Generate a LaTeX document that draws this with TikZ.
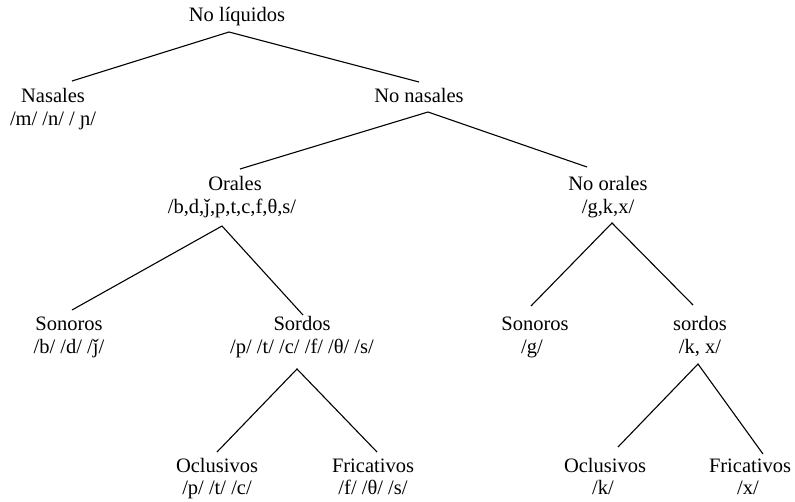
\documentclass[tikz,border=0pt]{standalone}
\usepackage{fontspec}
\setmainfont{Liberation Serif}
\begin{document}
\begin{tikzpicture}[x=1pt,y=-1pt,
  lbl/.style={anchor=base,inner sep=0pt,font=\fontsize{20.5}{23}\selectfont},
  edge/.style={line width=1.1pt}]
\useasboundingbox (0,0) rectangle (795,501);
% row 0
\node[lbl] (nl) at (237,21) {No líquidos};
% row 1
\node[lbl] (nas) at (53,102) {Nasales};
\node[lbl] (nasP) at (53,125) {/m/ /n/ / ɲ/};
\node[lbl] (nn) at (419,102) {No nasales};
% row 2
\node[lbl] (or) at (235,190) {Orales};
\node[lbl] (orP) at (232,213) {/b,d,ǰ,p,t,c,f,θ,s/};
\node[lbl] (no) at (608,190) {No orales};
\node[lbl] (noP) at (608,213) {/g,k,x/};
% row 3
\node[lbl] (sonL) at (69,330) {Sonoros};
\node[lbl] (sonLP) at (69,353) {/b/ /d/ /ǰ/};
\node[lbl] (sorL) at (302,330) {Sordos};
\node[lbl] (sorLP) at (302,353) {/p/ /t/ /c/ /f/ /θ/ /s/};
\node[lbl] (sonR) at (535,330) {Sonoros};
\node[lbl] (sonRP) at (532,353) {/g/};
\node[lbl] (sorR) at (700,330) {sordos};
\node[lbl] (sorRP) at (700,353) {/k, x/};
% row 4
\node[lbl] (ocL) at (217,472) {Oclusivos};
\node[lbl] (ocLP) at (217,494) {/p/ /t/ /c/};
\node[lbl] (frL) at (373,472) {Fricativos};
\node[lbl] (frLP) at (373,494) {/f/ /θ/ /s/};
\node[lbl] (ocR) at (605,472) {Oclusivos};
\node[lbl] (ocRP) at (603,494) {/k/};
\node[lbl] (frR) at (750,472) {Fricativos};
\node[lbl] (frRP) at (748,494) {/x/};
% connectors
\draw[edge] ([shift={(19,-21)}]nas.base) -- ([shift={(-8,11)}]nl.base) -- ([shift={(0,-20)}]nn.base);
\draw[edge] ([shift={(5,-21)}]or.base) -- ([shift={(9,10)}]nn.base) -- ([shift={(-21,-23)}]no.base);
\draw[edge] ([shift={(3,-20)}]sonL.base) -- ([shift={(-10,13)}]orP.base) -- ([shift={(1,-15)}]sorL.base);
\draw[edge] ([shift={(-4,-24)}]sonR.base) -- ([shift={(4,10)}]noP.base) -- ([shift={(-7,-25)}]sorR.base);
\draw[edge] ([shift={(0,-20)}]ocL.base) -- ([shift={(-5,16)}]sorLP.base) -- ([shift={(4,-20)}]frL.base);
\draw[edge] ([shift={(13,-25)}]ocR.base) -- ([shift={(-2,11)}]sorRP.base) -- ([shift={(13,-18)}]frR.base);
\end{tikzpicture}
\end{document}
